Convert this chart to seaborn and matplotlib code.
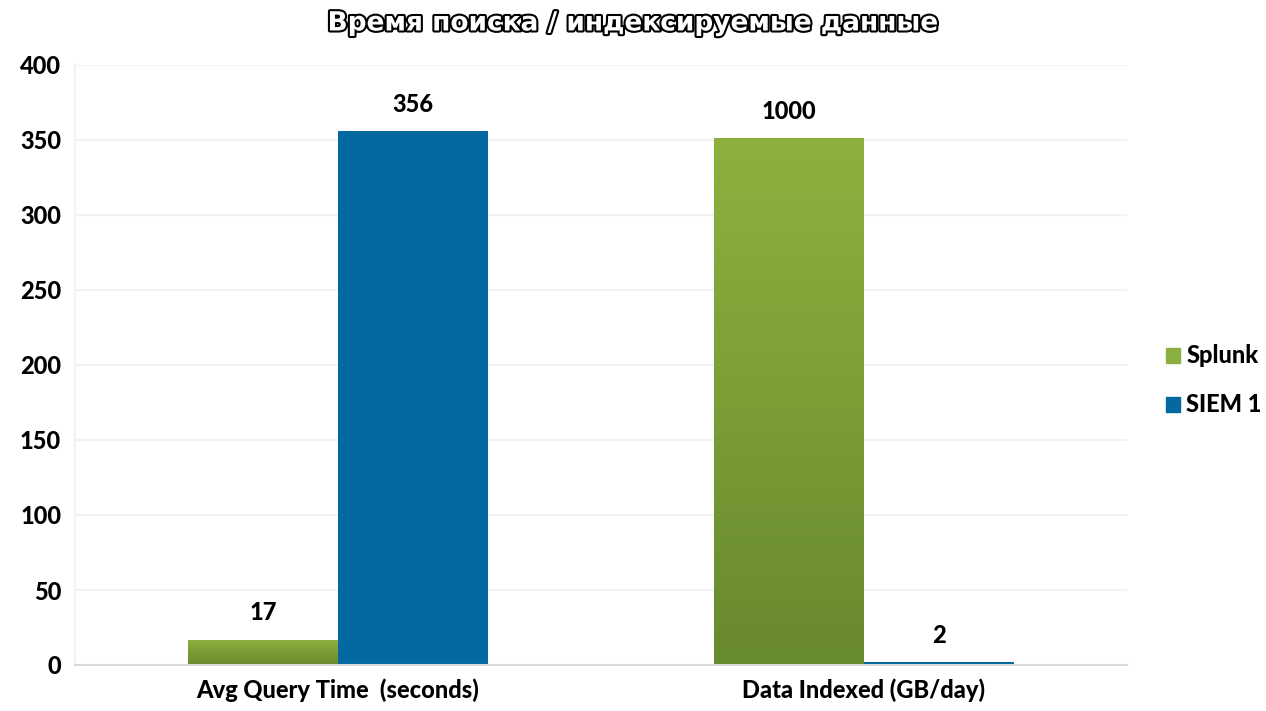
import numpy as np
import pandas as pd
import seaborn as sns
import matplotlib.pyplot as plt
import matplotlib.patheffects as pe
from matplotlib.patches import Patch
from matplotlib.colors import LinearSegmentedColormap

# Données du graphique
categories = ['Avg Query Time  (seconds)', 'Data Indexed (GB/day)']
series = ['Splunk', 'SIEM 1']
splunk_vals = [17, 351]      # hauteur dessinée
siem_vals = [356, 2]
splunk_labels = ['17', '1000']  # étiquettes affichées
siem_labels = ['356', '2']

colors = {'Splunk': '#8BB040', 'SIEM 1': '#0469A0'}

df = pd.DataFrame({
    'cat': categories * 2,
    'serie': ['Splunk'] * 2 + ['SIEM 1'] * 2,
    'val': splunk_vals + siem_vals,
})

sns.set_style('white')
plt.rcParams['font.family'] = ['Lato', 'DejaVu Sans']
plt.rcParams['text.color'] = 'black'
plt.rcParams['xtick.color'] = 'black'
plt.rcParams['ytick.color'] = 'black'

fig = plt.figure(figsize=(12.66, 7.11), dpi=100)
ax = fig.add_axes([75 / 1266, 46 / 711, 1052 / 1266, 600 / 711])

sns.barplot(data=df, x='cat', y='val', hue='serie', palette=colors,
            width=0.57, saturation=1, linewidth=0, ax=ax, legend=False)

ax.set_ylim(0, 400)
ax.set_yticks(range(0, 401, 50))
ax.yaxis.grid(True, color='#F2F2F2', linewidth=1.5)
ax.set_axisbelow(True)
ax.set_xlabel('')
ax.set_ylabel('')
for s in ['top', 'right']:
    ax.spines[s].set_visible(False)
ax.spines['left'].set_color('#F2F2F2')
ax.spines['left'].set_linewidth(1.5)
ax.spines['bottom'].set_color('#D9D9D9')
ax.spines['bottom'].set_linewidth(1.5)
ax.tick_params(axis='both', length=0, labelsize=17, pad=10)
for t in ax.get_xticklabels() + ax.get_yticklabels():
    t.set_fontweight('black')

# dégradé vertical pour les barres vertes
green_grad = np.linspace(0, 1, 256).reshape(-1, 1)
cmap = LinearSegmentedColormap.from_list('g', ['#688A2E', '#8DB13F'])
patches = ax.patches
n = len(categories)
for p in patches[:n]:
    x0, y0 = p.get_x(), p.get_y()
    w, h = p.get_width(), p.get_height()
    im = ax.imshow(green_grad, cmap=cmap, aspect='auto', origin='lower',
                   extent=[x0, x0 + w, y0, y0 + h], zorder=p.get_zorder() + 0.1)
    im.set_clip_path(p)
ax.set_xlim(-0.5, n - 0.5)
ax.set_ylim(0, 400)

# étiquettes de valeurs
labels = splunk_labels + siem_labels
for p, lab in zip(patches[:2 * n], labels):
    ax.text(p.get_x() + p.get_width() / 2, p.get_height() + 10, lab,
            ha='center', va='bottom', fontsize=17, fontweight='black')

# titre blanc avec contour noir
fig.text(0.5, 0.967, 'Время поиска / индексируемые данные', ha='center', va='center',
         fontsize=19, fontweight='bold', color='white', family='DejaVu Sans',
         path_effects=[pe.withStroke(linewidth=3, foreground='black')])

handles = [Patch(color=colors[s]) for s in series]
fig.legend(handles, series, loc='center left', bbox_to_anchor=(1166 / 1266, 0.465),
           frameon=False, borderaxespad=0, borderpad=0, handlelength=0.6,
           handleheight=0.6, handletextpad=0.25, labelspacing=1.1,
           prop={'size': 17, 'weight': 'black'})

fig.savefig('out.png', dpi=100)
